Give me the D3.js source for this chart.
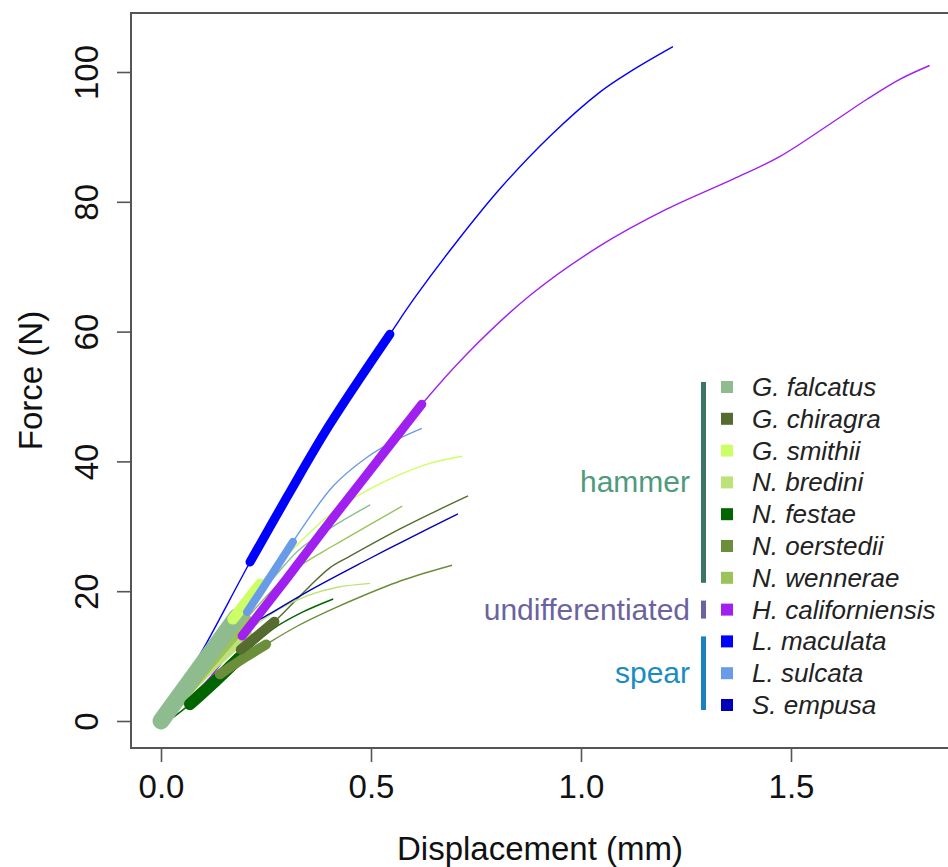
<!DOCTYPE html>
<html>
<head>
<meta charset="utf-8">
<script src="https://cdn.jsdelivr.net/npm/d3@7"></script>
<style>
  body { margin: 0; background: #fff; }
  text { font-family: "Liberation Sans", Arial, sans-serif; }
</style>
</head>
<body>
<script>
// species, legend order
const species = ["G. falcatus", "G. chiragra", "G. smithii", "N. bredini", "N. festae",
  "N. oerstedii", "N. wennerae", "H. californiensis", "L. maculata", "L. sulcata", "S. empusa"];
const groupNames = ["hammer", "undifferentiated", "spear"];
const groupSizes = [7, 1, 3];

const xTicks = [0, 0.5, 1.0, 1.5];
const yTicks = [0, 20, 40, 60, 80, 100];

// force-displacement curves [mm, N]
const gFalcatus = [[0,0],[0.09,8],[0.18,16],[0.26,21.5],[0.331,26.5],[0.41,30],[0.498,33.3]];
const gChiragra = [[0,0],[0.1,5.5],[0.19,11],[0.27,15.3],[0.35,20.5],[0.402,23.6],[0.45,25.4],[0.569,29.6],[0.65,32.2],[0.731,34.7]];
const gSmithii = [[0,0],[0.09,8.5],[0.171,15.7],[0.236,21.1],[0.33,27.5],[0.41,32.2],[0.49,35.5],[0.57,38],[0.64,39.7],[0.717,40.8]];
const nBredini = [[0,0],[0.05,4],[0.1,7.5],[0.2,13.5],[0.28,17.2],[0.348,19.3],[0.42,20.6],[0.498,21.2]];
const nFestae = [[0.03,0.6],[0.069,2.6],[0.13,6.2],[0.188,9.8],[0.267,14.2],[0.338,16.8],[0.41,18.8]];
const nOerstedii = [[0,0],[0.07,3.5],[0.14,7.2],[0.2,9.8],[0.25,11.8],[0.324,14.6],[0.4,17],[0.481,19.3],[0.58,21.8],[0.693,24]];
const nWennerae = [[0,0],[0.02,1.6],[0.1,8],[0.2,15.5],[0.27,20.5],[0.331,23.9],[0.41,27],[0.49,30],[0.574,33.1]];
const hCaliforniensis = [[0,0],[0.1,5.5],[0.193,13.1],[0.3,22],[0.4,30.5],[0.5,38.8],[0.621,48.8],[0.729,56.6],[0.879,65.6],[1.045,73.2],[1.205,78.9],[1.362,83.5],[1.474,87],[1.6,92.3],[1.681,95.8],[1.76,98.9],[1.83,101]];
const lMaculata = [[0,0],[0.05,5.5],[0.11,12.2],[0.212,24.5],[0.3,34.5],[0.4,45.5],[0.545,59.6],[0.605,65.3],[0.7,73.5],[0.807,82],[0.926,90.1],[1.045,96.9],[1.121,100.2],[1.219,103.9]];
const lSulcata = [[0,0],[0.1,8.2],[0.205,16.8],[0.26,22.2],[0.314,27.6],[0.41,36.2],[0.49,40.6],[0.56,43.3],[0.621,45.1]];
const sEmpusa = [[0,0],[0.067,4.6],[0.13,9.5],[0.188,13.7],[0.267,16.8],[0.348,19.9],[0.481,24.5],[0.586,28],[0.707,31.9]];

const curves = [gFalcatus, gChiragra, gSmithii, nBredini, nFestae, nOerstedii, nWennerae,
  hCaliforniensis, lMaculata, lSulcata, sEmpusa];
// highlighted (linear) part of each curve, displacement from / to
const thickRanges = [[0,0.18],[0.19,0.27],[0.171,0.236],[0,0.2],[0.069,0.188],[0.14,0.25],
  [0.02,0.2],[0.193,0.621],[0.212,0.545],[0.205,0.314],[0,0.067]];

const colors = ["#8fbc8f", "#556b2f", "#ccff66", "#bbe377", "#006400", "#6b8e3a", "#9cc25a",
  "#a020f0", "#0000ff", "#6a9be8", "#0000b8"];
const thickWidth = [17, 10, 11, 14, 12, 10, 14, 9, 9, 8, 6];
const thickOrder = [10, 3, 6, 0, 2, 9, 4, 5, 1, 7, 8];
const groupColors = ["#4f9a7c", "#6b63a0", "#1a8cc4"];
const barColors = ["#3c7565", "#6b63a0", "#1a82bd"];

let width = 948, height = 867;
let box = { left: 131, right: 949, top: 13, bottom: 748 };

let svg = d3.select('body').append('svg')
  .attr('width', width)
  .attr('height', height);

let x = d3.scaleLinear().domain([0, 1.5]).range([161, 791]);
let y = d3.scaleLinear().domain([0, 100]).range([721, 72]);

let line = d3.line()
  .curve(d3.curveCatmullRom.alpha(0.5))
  .x(d => x(d[0]))
  .y(d => y(d[1]));

// thin full curves
svg.append('g').selectAll('path')
  .data(curves)
  .enter().append('path')
  .attr('d', d => line(d))
  .attr('fill', 'none')
  .attr('stroke', (d, i) => colors[i])
  .attr('stroke-width', 1.4);

// thick highlighted segments
svg.append('g').selectAll('path')
  .data(thickOrder)
  .enter().append('path')
  .attr('d', i => line(curves[i].filter(p => p[0] >= thickRanges[i][0] - 1e-9 && p[0] <= thickRanges[i][1] + 1e-9)))
  .attr('fill', 'none')
  .attr('stroke', i => colors[i])
  .attr('stroke-width', i => thickWidth[i])
  .attr('stroke-linecap', 'round');

// frame
svg.append('path')
  .attr('d', `M${box.right},${box.top}H${box.left}V${box.bottom}H${box.right}`)
  .attr('fill', 'none')
  .attr('stroke', '#555')
  .attr('stroke-width', 2);

// x axis
let xAxis = svg.append('g')
  .attr('transform', `translate(0,${box.bottom})`)
  .call(d3.axisBottom(x).tickValues(xTicks).tickSize(14).tickPadding(13).tickFormat(d3.format('.1f')));
xAxis.select('.domain').remove();
xAxis.selectAll('line').attr('stroke', '#555').attr('stroke-width', 1.6);
xAxis.selectAll('text')
  .attr('fill', '#111')
  .style('font-size', '33px')
  .style('font-family', '"Liberation Sans", Arial, sans-serif');

// y axis
let yAxis = svg.append('g')
  .attr('transform', `translate(${box.left},0)`)
  .call(d3.axisLeft(y).tickValues(yTicks).tickSize(14).tickFormat(d3.format('d')));
yAxis.select('.domain').remove();
yAxis.selectAll('line').attr('stroke', '#555').attr('stroke-width', 1.6);
yAxis.selectAll('text').remove();
yAxis.selectAll('.tick').append('text')
  .attr('transform', 'translate(-33,0) rotate(-90)')
  .attr('text-anchor', 'middle')
  .attr('fill', '#111')
  .style('font-size', '33px')
  .text(d => d);

svg.append('text')
  .attr('x', (box.left + box.right) / 2)
  .attr('y', 860)
  .attr('text-anchor', 'middle')
  .attr('fill', '#111')
  .style('font-size', '33px')
  .text('Displacement (mm)');

svg.append('text')
  .attr('transform', `translate(42,${(box.top + box.bottom) / 2}) rotate(-90)`)
  .attr('text-anchor', 'middle')
  .attr('fill', '#111')
  .style('font-size', '33px')
  .text('Force (N)');

// legend
let rowY = i => 387 + i * 31.8;
let legend = svg.append('g');

let items = legend.selectAll('.legend-item')
  .data(species)
  .enter().append('g')
  .attr('class', 'legend-item')
  .attr('transform', (d, i) => `translate(0,${rowY(i)})`);

items.append('rect')
  .attr('x', 721)
  .attr('y', -6)
  .attr('width', 12)
  .attr('height', 12)
  .attr('fill', (d, i) => colors[i]);

items.append('text')
  .attr('x', 752)
  .attr('y', 9)
  .attr('fill', '#222')
  .style('font-size', '26px')
  .style('font-style', 'italic')
  .text(d => d);

// group bars and labels
let start = 0;
groupNames.forEach((g, k) => {
  let first = start, last = start + groupSizes[k] - 1;
  start += groupSizes[k];
  let top = rowY(first) - 5, bottom = rowY(last) + 5;
  if (groupSizes[k] === 1) { top = rowY(first) - 9; bottom = rowY(first) + 9; }
  legend.append('rect')
    .attr('x', 701)
    .attr('y', top)
    .attr('width', 5)
    .attr('height', bottom - top)
    .attr('fill', barColors[k]);
  legend.append('text')
    .attr('x', 690)
    .attr('y', (top + bottom) / 2 + 10)
    .attr('text-anchor', 'end')
    .attr('fill', groupColors[k])
    .style('font-size', '30px')
    .text(g);
});
</script>
</body>
</html>
